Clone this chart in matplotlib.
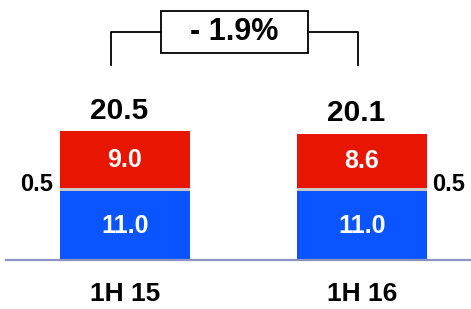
import matplotlib
matplotlib.use("Agg")
import matplotlib.pyplot as plt
from matplotlib.patches import Rectangle

categories = ["1H 15", "1H 16"]
blue_vals = [11.0, 11.0]
grey_vals = [0.5, 0.5]
red_vals = [9.0, 8.6]
totals = [20.5, 20.1]
change_label = "- 1.9%"

plt.rcParams['font.family'] = ['Liberation Sans', 'DejaVu Sans']

W, H = 471, 309
fig = plt.figure(figsize=(W / 100, H / 100), dpi=100)
base_px = 49
ax = fig.add_axes([0, base_px / H, 1, (H - base_px) / H])
ax.set_xlim(-0.527, 1.46)
ax.set_ylim(0, 260 / 6.27)
ax.axis('off')

x = [0, 1]
bw = 0.549
blue_c = '#0A55FF'
grey_c = '#C8C8C8'
red_c = '#E81600'

ax.bar(x, blue_vals, bw, color=blue_c, edgecolor='none')
bot2 = [b for b in blue_vals]
ax.bar(x, grey_vals, bw, bottom=bot2, color=grey_c, edgecolor='none')
bot3 = [b + g for b, g in zip(blue_vals, grey_vals)]
ax.bar(x, red_vals, bw, bottom=bot3, color=red_c, edgecolor='none')

ax.axhline(0, xmin=6 / W, xmax=1, color='#8C93C6', lw=1.6, clip_on=False)

for i in range(2):
    ax.text(x[i], blue_vals[i] / 2, f"{blue_vals[i]:.1f}", color='white',
            fontsize=18, fontweight='bold', ha='center', va='center')
    ax.text(x[i], bot3[i] + red_vals[i] / 2, f"{red_vals[i]:.1f}", color='white',
            fontsize=18, fontweight='bold', ha='center', va='center')
    ax.text(x[i] - 0.025, totals[i] + 2.0, f"{totals[i]:.1f}", color='black',
            fontsize=21.5, fontweight='bold', ha='center', va='baseline')
    ax.text(x[i], -5.5, categories[i], color='black', fontsize=19,
            fontweight='bold', ha='center', va='center', clip_on=False)

# grey segment labels
ax.text(x[0] - bw / 2 - 0.03, blue_vals[0] + grey_vals[0] / 2 + 0.8,
        f"{grey_vals[0]:.1f}", fontsize=17, fontweight='bold', ha='right', va='center')
ax.text(x[1] + bw / 2 + 0.02, blue_vals[1] + grey_vals[1] / 2 + 0.8,
        f"{grey_vals[1]:.1f}", fontsize=17, fontweight='bold', ha='left', va='center')

# bracket
lx, rx = -0.059, 0.983
y_low, y_top = 31.1, 36.4
bx0, bx1 = (161 - 125) / 237, (308 - 125) / 237
by0, by1 = 33.0, 39.7
ax.plot([lx, lx, bx0], [y_low, y_top, y_top], color='black', lw=1.3, clip_on=False)
ax.plot([bx1, rx, rx], [y_top, y_top, y_low], color='black', lw=1.3, clip_on=False)
ax.add_patch(Rectangle((bx0, by0), bx1 - bx0, by1 - by0, fill=False,
                       edgecolor='black', lw=1.3, clip_on=False))
ax.text((bx0 + bx1) / 2, (by0 + by1) / 2, change_label, fontsize=22,
        fontweight='bold', ha='center', va='center')

fig.savefig('out.png', dpi=100)
